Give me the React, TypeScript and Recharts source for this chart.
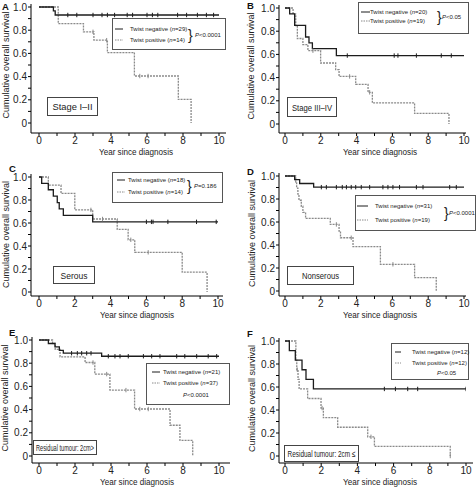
import React from 'react';
import { LineChart, Line, XAxis, YAxis } from 'recharts';

const FONT = '"Liberation Sans", Arial, Helvetica, sans-serif';
const NEG_COLOR = '#1c1c1c';
const POS_COLOR = '#8a8a8a';

type Step = [number, number];

// A: Stage I-II
const A_NEG: Step[] = [[0, 1], [0.8, 0.966], [0.9, 0.931]];
const A_NEG_CENS = [1.6, 2.1, 3.0, 3.5, 3.8, 4.2, 4.9, 5.2, 6.0, 6.3, 6.6, 7.7, 8.2, 8.8, 9.3, 9.7];
const A_POS: Step[] = [[0, 1], [1.07, 0.857], [2.47, 0.786], [3.05, 0.714], [3.8, 0.607], [5.3, 0.405], [7.74, 0.203], [8.45, 0]];
const A_POS_CENS = [3.0, 3.76, 5.6, 6.06];

// B: Stage III-IV
const B_NEG: Step[] = [[0, 1], [0.26, 0.95], [0.54, 0.85], [1.15, 0.75], [1.34, 0.7], [1.53, 0.65], [2.87, 0.59]];
const B_NEG_CENS = [3.48, 6.1, 6.31, 7.34, 8.73, 9.29];
const B_POS: Step[] = [[0, 1], [0.45, 0.947], [0.6, 0.842], [0.69, 0.737], [1.0, 0.684], [1.28, 0.632], [1.99, 0.526], [2.83, 0.468], [3.02, 0.41], [3.95, 0.342], [4.64, 0.273], [4.88, 0.182], [7.24, 0.091], [9.16, 0]];
const B_POS_CENS = [1.56, 3.61, 4.73];

// C: Serous
const C_NEG: Step[] = [[0, 1], [0.15, 0.944], [0.52, 0.889], [0.8, 0.833], [1.02, 0.778], [1.13, 0.722], [1.36, 0.667], [3.0, 0.61]];
const C_NEG_CENS = [6.0, 6.28, 6.37, 7.2, 8.8, 9.9];
const C_POS: Step[] = [[0, 1], [0.52, 0.929], [1.23, 0.857], [2.0, 0.714], [3.0, 0.635], [4.37, 0.545], [4.98, 0.454], [5.35, 0.345], [8.0, 0.172], [9.39, 0]];
const C_POS_CENS = [2.9, 3.55, 5.13, 6.1];

// D: Nonserous
const D_NEG: Step[] = [[0, 1], [0.54, 0.968], [0.82, 0.935], [1.6, 0.903]];
const D_NEG_CENS = [2.03, 2.31, 2.87, 3.2, 3.43, 3.7, 3.95, 4.26, 4.73, 5.47, 5.75, 6.03, 6.4, 7.34, 7.71, 9.2, 9.57];
const D_POS: Step[] = [[0, 1], [0.6, 0.947], [0.65, 0.895], [0.72, 0.842], [0.78, 0.789], [0.91, 0.737], [1.0, 0.684], [1.15, 0.632], [2.53, 0.579], [3.02, 0.521], [3.1, 0.463], [3.8, 0.386], [5.33, 0.232], [7.24, 0.116], [8.45, 0]];
const D_POS_CENS = [2.87, 3.7, 6.03];

// E: Residual tumour 2cm>
const E_NEG: Step[] = [[0, 1], [0.52, 0.97], [0.89, 0.94], [1.13, 0.91], [1.35, 0.886], [3.48, 0.86]];
const E_NEG_CENS = [1.81, 2.13, 2.37, 2.65, 2.89, 3.85, 4.22, 4.5, 4.96, 5.8, 6.26, 6.72, 7.65, 8.1, 8.76, 9.4, 9.87];
const E_POS: Step[] = [[0, 1], [0.75, 0.97], [0.9, 0.92], [1.17, 0.855], [2.56, 0.806], [3.1, 0.706], [3.94, 0.568], [5.31, 0.405], [7.28, 0.265], [7.83, 0.134], [8.54, 0]];
const E_POS_CENS = [3.0, 3.76, 4.83, 5.6, 6.07];

// F: Residual tumour 2cm<=
const F_NEG: Step[] = [[0, 1], [0.24, 0.917], [0.57, 0.833], [0.94, 0.75], [1.16, 0.667], [1.57, 0.583]];
const F_NEG_CENS = [5.49, 6.1, 6.78, 7.33, 10.0];
const F_POS: Step[] = [[0, 1], [0.6, 0.833], [0.65, 0.75], [0.72, 0.667], [0.78, 0.583], [1.25, 0.5], [1.99, 0.417], [2.12, 0.333], [2.91, 0.25], [4.57, 0.167], [4.94, 0.083], [9.13, 0]];
const F_POS_CENS = [0.68, 2.05, 4.75, 9.13];

const FOLLOW_UP_END = [10.35, 10.1, 10.3, 10.1, 10.6, 10.4];
const N_NEG = [29, 20, 18, 31, 21, 12];
const N_POS = [14, 19, 14, 19, 37, 12];
const P_TEXT = ['<0.0001', '<0.05', '=0.186', '<0.0001', '<0.0001', '<0.05'];
const LETTERS = ['A', 'B', 'C', 'D', 'E', 'F'];
const GROUPS = ['Stage I\u2013II', 'Stage III\u2013IV', 'Serous', 'Nonserous', 'Residual tumour: 2cm>', 'Residual tumour: 2cm \u2264'];

const X_TICKS = [0, 1, 2, 3, 4, 5, 6, 7, 8, 9, 10];
const Y_TICKS = [0, 0.1, 0.2, 0.3, 0.4, 0.5, 0.6, 0.7, 0.8, 0.9, 1];

type Pt = { t: number; s: number; c: boolean };

function km(steps: Step[], cens: number[], end: number): Pt[] {
  const pts: Pt[] = steps.map(([t, s]) => ({ t, s, c: false }));
  cens.forEach((t) => {
    let level = steps[0][1];
    steps.forEach(([st, ss]) => { if (st <= t) level = ss; });
    pts.push({ t, s: level, c: true });
  });
  const last = steps[steps.length - 1];
  if (last[1] > 0 && end > last[0]) pts.push({ t: end, s: last[1], c: false });
  return pts.sort((a, b) => a.t - b.t || (a.c ? 1 : 0) - (b.c ? 1 : 0));
}

// page-pixel layout of each panel
const LAYOUT = [
  { left: 0, top: 0, width: 236, height: 160, axisX: 31, axisY: 133, x0: 39, x10: 219, right: 226, y1: 7, y0: 123, yTitleX: 6, xTitleX: 136 },
  { left: 236, top: 0, width: 240, height: 160, axisX: 279, axisY: 133, x0: 285, x10: 464, right: 466, y1: 8, y0: 124, yTitleX: 251, xTitleX: 380 },
  { left: 0, top: 160, width: 236, height: 160, axisX: 31, axisY: 296, x0: 39, x10: 218, right: 223, y1: 177, y0: 292, yTitleX: 6, xTitleX: 137 },
  { left: 236, top: 160, width: 240, height: 160, axisX: 279, axisY: 296, x0: 285, x10: 464, right: 466, y1: 176, y0: 291, yTitleX: 252, xTitleX: 380 },
  { left: 0, top: 320, width: 236, height: 168, axisX: 32, axisY: 463, x0: 39, x10: 219, right: 230, y1: 340, y0: 456, yTitleX: 5, xTitleX: 137 },
  { left: 236, top: 320, width: 240, height: 168, axisX: 279, axisY: 463, x0: 285, x10: 466, right: 473, y1: 341, y0: 456, yTitleX: 252, xTitleX: 380 },
];

// letter x, baseline y
const LETTER_POS = [[2, 10], [247, 9], [9, 172], [247, 175], [9, 336], [247, 337]];
// group box x, y, w, h, text width
const GROUP_BOX = [
  [47, 97, 51, 19, 40], [287, 97, 50, 20, 40], [53, 266, 42, 18, 27],
  [287, 266, 67, 19, 37], [33, 440, 64, 15, 58], [284, 445, 75, 17, 68],
];
// legend box: x, y, w, h, sampleX, sampleW, textX, row1, row2, braceX, pX, pY
const LEGEND_BOX = [
  [112, 18, 114, 32, 115, 8, 130, 29, 40, 188, 195, 34.5],
  [358, 2, 111, 32, 361, 9, 370, 12, 21, 437, 442, 16.5],
  [112, 172, 111, 31, 117, 8, 128, 180, 192, 187, 194, 186],
  [355, 195, 121, 36, 357, 11, 375, 206, 220, 444, 449, 213],
  [146, 363, 84, 42, 152, 8, 163, 372, 383, 0, 183, 395],
  [391, 343, 78, 37, 395, 6, 412, 352, 363, 0, 437, 373],
];

const SERIES = [
  [A_NEG, A_NEG_CENS, A_POS, A_POS_CENS],
  [B_NEG, B_NEG_CENS, B_POS, B_POS_CENS],
  [C_NEG, C_NEG_CENS, C_POS, C_POS_CENS],
  [D_NEG, D_NEG_CENS, D_POS, D_POS_CENS],
  [E_NEG, E_NEG_CENS, E_POS, E_POS_CENS],
  [F_NEG, F_NEG_CENS, F_POS, F_POS_CENS],
] as [Step[], number[], Step[], number[]][];

const censorDot = (color: string) => (props: any) => {
  const { cx, cy, payload, index } = props;
  if (!payload || !payload.c) return <g key={`d${index}`} />;
  return <line key={`c${index}`} x1={cx} x2={cx} y1={cy - 2.2} y2={cy + 2.2} stroke={color} strokeWidth={1} />;
};

const yFmt = (v: number) => {
  const k = Math.round(v * 10);
  if (k % 2 !== 0) return '';
  if (k === 0) return '0';
  return (k / 10).toFixed(1);
};
const xFmt = (v: number) => (v % 2 === 0 ? String(v) : '');

const tickStyle = { fontSize: 10, fill: '#222', fontFamily: FONT };

function Panel({ i }: { i: number }) {
  const L = LAYOUT[i];
  const [neg, negC, pos, posC] = SERIES[i];
  const negData = km(neg, negC, FOLLOW_UP_END[i]);
  const posData = km(pos, posC, FOLLOW_UP_END[i]);
  const yMid = (L.y1 + L.y0) / 2 - L.top;
  const yTx = L.yTitleX - L.left;
  return (
    <div style={{ position: 'absolute', left: L.left, top: L.top }}>
      <LineChart
        width={L.width}
        height={L.height}
        margin={{ top: L.y1 - 3 - L.top, right: L.left + L.width - L.right, bottom: 0, left: 0 }}
      >
        <XAxis
          type="number"
          dataKey="t"
          domain={[0, 10]}
          allowDataOverflow
          ticks={X_TICKS}
          interval={0}
          tickFormatter={xFmt}
          padding={{ left: L.x0 - L.axisX, right: L.right - L.x10 }}
          height={L.top + L.height - L.axisY}
          tickSize={3}
          tickMargin={1}
          tick={tickStyle}
          axisLine={{ stroke: '#000', strokeWidth: 1 }}
          tickLine={{ stroke: '#000' }}
          label={{
            content: () => (
              <text x={L.xTitleX - L.left} y={L.axisY + 22 - L.top} textAnchor="middle" fontSize={9.5} fontFamily={FONT} fill="#222" textLength={74} lengthAdjust="spacingAndGlyphs">
                Year since diagnosis
              </text>
            ),
          }}
        />
        <YAxis
          type="number"
          domain={[0, 1]}
          ticks={Y_TICKS}
          interval={0}
          tickFormatter={yFmt}
          padding={{ top: 3, bottom: L.axisY - L.y0 }}
          width={L.axisX - L.left}
          tickSize={3}
          tickMargin={1}
          tick={tickStyle}
          axisLine={{ stroke: '#000', strokeWidth: 1 }}
          tickLine={{ stroke: '#000' }}
          label={{
            content: () => (
              <text
                x={yTx}
                y={yMid}
                transform={`rotate(-90, ${yTx}, ${yMid})`}
                textAnchor="middle"
                dominantBaseline="central"
                fontSize={9}
                fontFamily={FONT}
                fill="#222"
              >
                Cumulative overall survival
              </text>
            ),
          }}
        />
        <Line
          data={posData}
          dataKey="s"
          type="stepAfter"
          stroke={POS_COLOR}
          strokeWidth={1.3}
          strokeDasharray="2 1"
          dot={censorDot(POS_COLOR)}
          activeDot={false}
          isAnimationActive={false}
        />
        <Line
          data={negData}
          dataKey="s"
          type="stepAfter"
          stroke={NEG_COLOR}
          strokeWidth={1.3}
          dot={censorDot(NEG_COLOR)}
          activeDot={false}
          isAnimationActive={false}
        />
      </LineChart>
    </div>
  );
}

function LegendBox({ i }: { i: number }) {
  const [x, y, w, h, sx, sw, tx, r1, r2, bx, px, py] = LEGEND_BOX[i];
  const t = { fontSize: 6, fontFamily: FONT, fill: '#222', dominantBaseline: 'central' as const };
  return (
    <g>
      <rect x={x + 0.5} y={y + 0.5} width={w - 1} height={h - 1} fill="#fff" stroke="#555" strokeWidth={1} />
      <line x1={sx} x2={sx + sw} y1={r1} y2={r1} stroke={NEG_COLOR} strokeWidth={1} />
      <line x1={sx} x2={sx + sw} y1={r2} y2={r2} stroke={POS_COLOR} strokeWidth={1} strokeDasharray="1.5 1" />
      <text x={tx} y={r1} {...t}>
        Twist negative (<tspan fontStyle="italic">n</tspan>={N_NEG[i]})
      </text>
      <text x={tx} y={r2} {...t}>
        Twist positive (<tspan fontStyle="italic">n</tspan>={N_POS[i]})
      </text>
      {bx > 0 && (
        <text x={bx} y={(r1 + r2) / 2} fontSize={14} fontFamily={FONT} fill="#222" dominantBaseline="central" fontWeight={300}>
          {'}'}
        </text>
      )}
      <text x={px} y={py} {...t}>
        <tspan fontStyle="italic">P</tspan>{P_TEXT[i]}
      </text>
    </g>
  );
}

export default function App() {
  return (
    <div style={{ position: 'absolute', left: 0, top: 0, width: 476, height: 488, background: '#fff', fontFamily: FONT, overflow: 'hidden' }}>
      {LAYOUT.map((_, i) => (
        <Panel key={`p${i}`} i={i} />
      ))}
      <svg width={476} height={488} style={{ position: 'absolute', left: 0, top: 0, pointerEvents: 'none' }}>
        {LAYOUT.map((_, i) => (
          <LegendBox key={`l${i}`} i={i} />
        ))}
        {GROUPS.map((g, i) => {
          const [gx, gy, gw, gh, tw] = GROUP_BOX[i];
          return (
            <g key={`g${i}`}>
              <rect x={gx + 0.5} y={gy + 0.5} width={gw - 1} height={gh - 1} fill="#fff" stroke="#444" strokeWidth={1} />
              <text
                x={gx + gw / 2}
                y={gy + gh / 2 + 0.5}
                textAnchor="middle"
                dominantBaseline="central"
                fontSize={9}
                fontFamily={FONT}
                fill="#222"
                textLength={tw}
                lengthAdjust="spacingAndGlyphs"
              >
                {g}
              </text>
            </g>
          );
        })}
        {LETTERS.map((l, i) => (
          <text key={`t${i}`} x={LETTER_POS[i][0]} y={LETTER_POS[i][1]} fontSize={9.5} fontWeight="bold" fontFamily={FONT} fill="#111">
            {l}
          </text>
        ))}
      </svg>
    </div>
  );
}
